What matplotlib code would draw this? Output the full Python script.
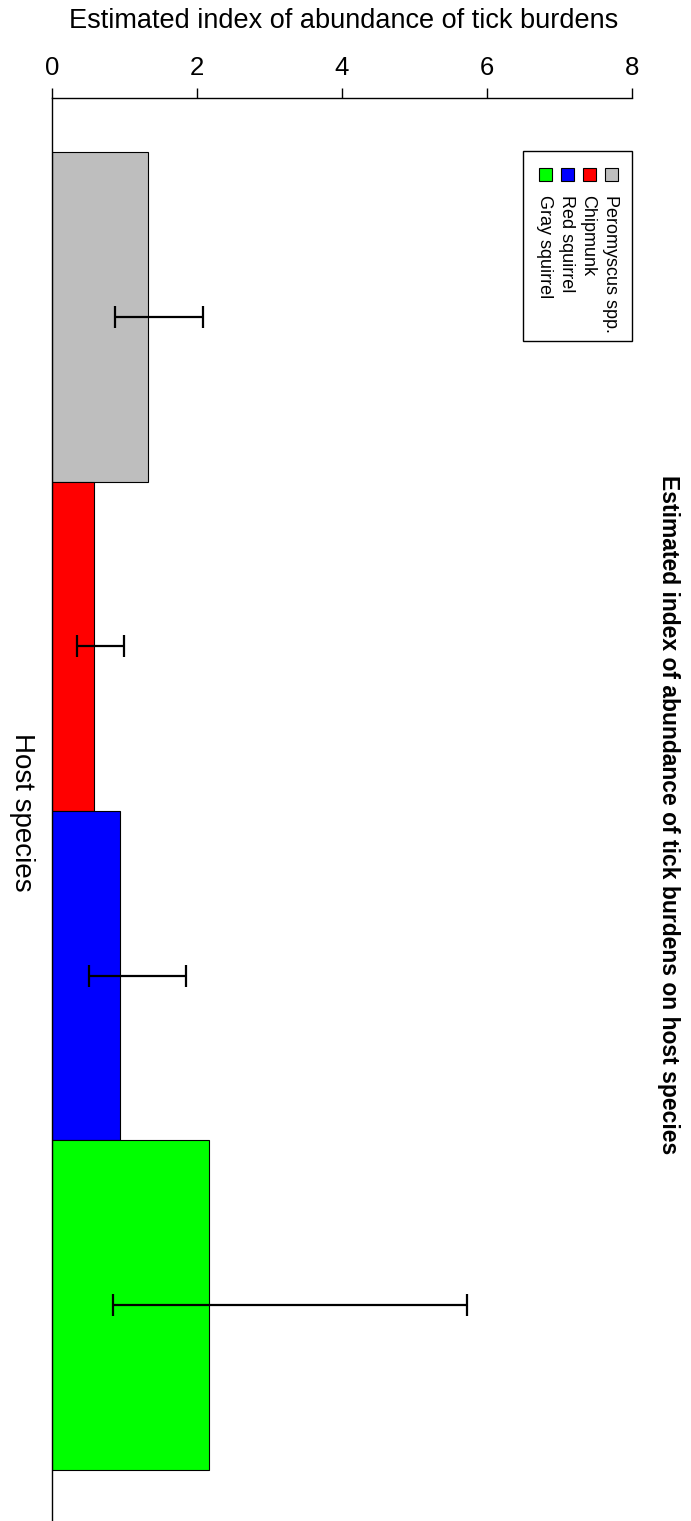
import numpy as np
import matplotlib
matplotlib.use("Agg")
import matplotlib.pyplot as plt
from matplotlib.patches import Rectangle

# data
species = ["Peromyscus spp.", "Chipmunk", "Red squirrel", "Gray squirrel"]
colors = ["#bebebe", "#ff0000", "#0000ff", "#00ff00"]
abundance = [1.33, 0.58, 0.94, 2.17]
ci_low = [0.87, 0.34, 0.51, 0.84]
ci_high = [2.08, 0.99, 1.85, 5.72]
x_ticks = [0, 2, 4, 6, 8]

plt.rcParams['font.family'] = ['Liberation Sans', 'DejaVu Sans']

W, H = 691, 1521


def px(x, y):
    # pixel position -> figure fraction
    return x / W, 1 - y / H


fig = plt.figure(figsize=(W / 100, H / 100), dpi=100)
ax = fig.add_axes([52 / W, 0, 580 / W, (H - 98) / H])

pos = np.arange(len(species))
ax.barh(pos, abundance, height=1.0, color=colors, edgecolor='black', linewidth=0.8)

means = np.array(abundance)
xerr = [means - np.array(ci_low), np.array(ci_high) - means]
ax.errorbar(means, pos, xerr=xerr, fmt='none', ecolor='black',
            elinewidth=1.6, capsize=8, capthick=1.6)

ax.set_xlim(0, 8)
ax.set_ylim(3.655, -0.664)
ax.xaxis.tick_top()
ax.set_xticks(x_ticks)
ax.set_xticklabels([str(t) for t in x_ticks], fontsize=18.5)
ax.tick_params(axis='x', direction='out', length=7, width=1, pad=6)
ax.set_yticks([])
ax.spines['right'].set_visible(False)
ax.spines['bottom'].set_visible(False)
ax.spines['top'].set_linewidth(1)
ax.spines['left'].set_linewidth(1)

# axis titles (rotated layout)
fig.text(*px(343.5, 21), "Estimated index of abundance of tick burdens",
         fontsize=19.5, ha='center', va='center')
fig.text(*px(22, 812), "Host species", fontsize=20, rotation=-90,
         ha='center', va='center')
fig.text(*px(668, 815), "Estimated index of abundance of tick burdens on host species",
         fontsize=16.5, fontweight='bold', rotation=-90, ha='center', va='center')

# legend, drawn column by column to follow the rotated layout
fig.patches.append(Rectangle(px(523, 341), 109 / W, 190 / H, transform=fig.transFigure,
                             facecolor='white', edgecolor='black', linewidth=1))
col_x = [611, 589, 567, 545]
for name, c, cx in zip(species, colors, col_x):
    fig.patches.append(Rectangle(px(cx - 6.5, 181), 13 / W, 13 / H, transform=fig.transFigure,
                                 facecolor=c, edgecolor='black', linewidth=0.8))
    fig.text(*px(cx - 1, 195), name, fontsize=13, rotation=-90, ha='center', va='top')

fig.savefig("out.png", dpi=100, facecolor='white')
